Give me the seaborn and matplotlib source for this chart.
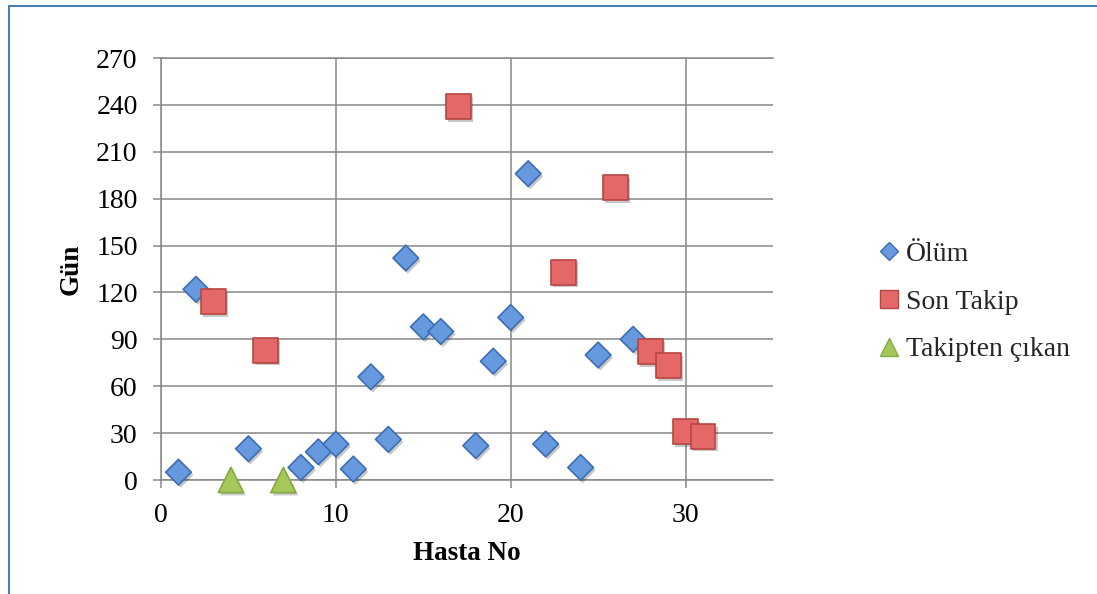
import matplotlib
matplotlib.use("Agg")
import matplotlib.pyplot as plt
import matplotlib.patheffects as pe
from matplotlib.lines import Line2D
from matplotlib.patches import Rectangle
import pandas as pd
import seaborn as sns

# Patient numbers and days, per outcome group
olum_hasta = [1, 2, 5, 8, 9, 10, 11, 12, 13, 14, 15, 16, 18, 19, 20, 21, 22, 24, 25, 27]
olum_gun = [5, 122, 20, 8, 18, 23, 7, 66, 26, 142, 98, 95, 22, 76, 104, 196, 23, 8, 80, 90]

son_takip_hasta = [3, 6, 17, 23, 26, 28, 29, 30, 31]
son_takip_gun = [114, 83, 239, 133, 187, 82, 73, 31, 28]

cikan_hasta = [4, 7]
cikan_gun = [0, 0]

groups = ["Ölüm", "Son Takip", "Takipten çıkan"]
x_ticks = [0, 10, 20, 30]
y_ticks = [0, 30, 60, 90, 120, 150, 180, 210, 240, 270]

df = pd.concat([
    pd.DataFrame({"Hasta No": olum_hasta, "Gün": olum_gun, "Durum": groups[0]}),
    pd.DataFrame({"Hasta No": son_takip_hasta, "Gün": son_takip_gun, "Durum": groups[1]}),
    pd.DataFrame({"Hasta No": cikan_hasta, "Gün": cikan_gun, "Durum": groups[2]}),
], ignore_index=True)

sns.set_theme(style="white")
plt.rcParams["font.family"] = ["Liberation Serif", "DejaVu Serif"]

styles = {
    "Ölüm": dict(marker="D", s=170, color="#6699de", edge="#3d6db3"),
    "Son Takip": dict(marker="s", s=320, color="#e46868", edge="#b94541"),
    "Takipten çıkan": dict(marker="^", s=330, color="#a4c85a", edge="#86a843"),
}
legend_ms = {"Ölüm": 9.5, "Son Takip": 12.5, "Takipten çıkan": 13.0}

fig = plt.figure(figsize=(10.97, 5.94), dpi=100)
ax = fig.add_axes([161 / 1097, 114 / 594, 612 / 1097, 422 / 594])

grid_color = "#878787"
shadow = [pe.SimplePatchShadow(offset=(1.5, -2.0), shadow_rgbFace="#000000", alpha=0.22), pe.Normal()]

for g in groups:
    st = styles[g]
    sub = df[df["Durum"] == g]
    sns.scatterplot(data=sub, x="Hasta No", y="Gün", ax=ax, marker=st["marker"], s=st["s"],
                    color=st["color"], edgecolor=st["edge"], linewidth=1.2,
                    legend=False, clip_on=False, zorder=3)
    ax.collections[-1].set_path_effects(shadow)

ax.set_xlim(0, 35)
ax.set_ylim(0, 270)
ax.set_xticks(x_ticks)
ax.set_yticks(y_ticks)

ax.grid(True, color=grid_color, linewidth=1.1)
ax.set_axisbelow(True)
for side in ["left", "bottom", "top"]:
    ax.spines[side].set_visible(True)
    ax.spines[side].set_color(grid_color)
    ax.spines[side].set_linewidth(1.1)
ax.spines["right"].set_visible(False)

ax.tick_params(axis="both", which="both", direction="out", length=5.8, width=1.1,
               color=grid_color, labelsize=20, labelcolor="black", pad=11)
ax.tick_params(axis="x", bottom=True)
ax.tick_params(axis="y", left=True)

ax.set_xlabel("Hasta No", fontsize=19.5, fontweight="bold", color="black", va="center")
ax.set_ylabel("Gün", fontsize=19.5, fontweight="bold", color="black", va="center")
ax.xaxis.set_label_coords(0.5, -0.173)
ax.yaxis.set_label_coords(-0.147, 0.5)

handles = [
    Line2D([], [], linestyle="none", marker=styles[g]["marker"], markersize=legend_ms[g],
           markerfacecolor=styles[g]["color"], markeredgecolor=styles[g]["edge"],
           markeredgewidth=1.0, label=g)
    for g in groups
]
fig.legend(handles=handles, loc="center left", bbox_to_anchor=(875 / 1097, 1 - 302 / 594),
           frameon=False, fontsize=20, handlelength=1.0, handletextpad=0.1,
           labelspacing=0.8, borderpad=0, borderaxespad=0)

# Chart frame: only its top and left edges fall inside the image
fig.patches.append(Rectangle((9 / 1097, -0.2), 1.3, 1.2 - 6 / 594, transform=fig.transFigure,
                             fill=False, edgecolor="#4a7ebb", linewidth=1.5, zorder=0))

fig.savefig("out.png", dpi=100, facecolor="white")
